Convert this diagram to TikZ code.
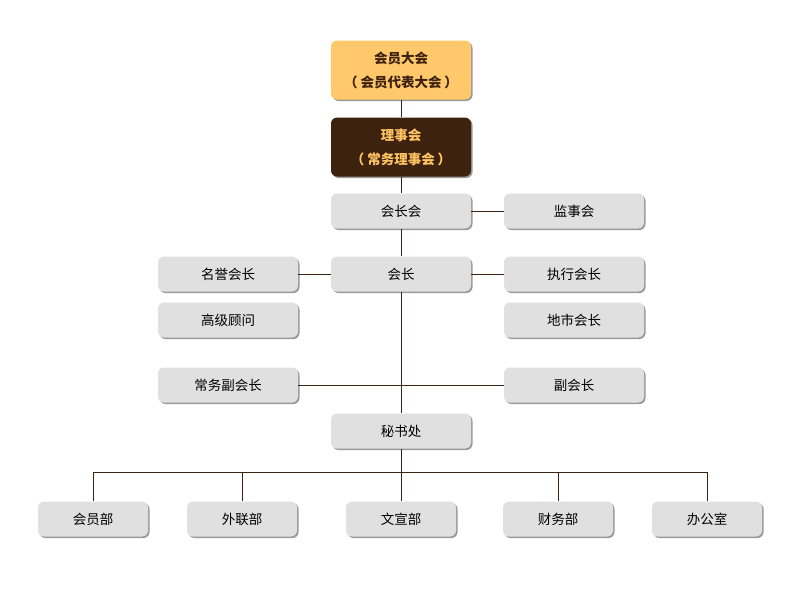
\documentclass[tikz,border=0pt]{standalone}
\usepackage{fontspec}
\setmainfont{Noto Sans CJK SC}
\usetikzlibrary{shadows}

\definecolor{linebrown}{HTML}{3E2210}
\definecolor{boxgold}{HTML}{FFC86A}
\definecolor{boxbrown}{HTML}{3E2210}
\definecolor{textgold}{HTML}{FFC462}
\definecolor{boxgray}{HTML}{E0E0E0}

\newcommand*{\colL}{228}
\newcommand*{\colM}{401}
\newcommand*{\colR}{574}

\tikzset{
    unit/.style={rounded corners=6pt, minimum height=35pt, minimum width=140pt,
        font=\fontsize{13.5}{15}\selectfont, inner sep=0pt,
        drop shadow={shadow xshift=1.5pt, shadow yshift=-1.5pt, fill=black!40, opacity=1}},
    grayunit/.style={unit, fill=boxgray},
    topunit/.style={unit, minimum height=59pt, align=center,
        font=\fontsize{13.5}{24}\selectfont\bfseries},
    dept/.style={grayunit, minimum width=110pt},
    link/.style={draw=linebrown, line width=0.8pt},
}

\begin{document}
\begin{tikzpicture}[x=1pt,y=-1pt]
    \useasboundingbox [fill=white] (0,0) rectangle (800,600);

    \node [topunit, fill=boxgold, text=linebrown] (assembly) at (\colM,70) {会员大会\\（\hspace{3pt}会员代表大会\hspace{3pt}）};
    \node [topunit, fill=boxbrown, text=textgold] (council) at (\colM,147) {理事会\\（\hspace{3pt}常务理事会\hspace{3pt}）};

    \node [grayunit] (presidium)   at (\colM,211) {会长会};
    \node [grayunit] (supervisors) at (\colR,211) {监事会};
    \node [grayunit] (honorary)    at (\colL,274) {名誉会长};
    \node [grayunit] (president)   at (\colM,274) {会长};
    \node [grayunit] (executive)   at (\colR,274) {执行会长};
    \node [grayunit] (advisor)     at (\colL,320) {高级顾问};
    \node [grayunit] (regional)    at (\colR,320) {地市会长};
    \node [grayunit] (standing)    at (\colL,385) {常务副会长};
    \node [grayunit] (vicepres)    at (\colR,385) {副会长};
    \node [grayunit] (secretariat) at (\colM,431) {秘书处};

    \foreach \x/\name/\label in {93/dA/会员部,242/dB/外联部,401/dC/文宣部,558/dD/财务部,707/dE/办公室} {
        \node [dept] (\name) at (\x,519) {\label};
    }

    \coordinate (bus) at (\colM,472);

    \draw [link] (assembly) -- (council);
    \draw [link] (council) -- (presidium);
    \draw [link] (presidium) -- (supervisors);
    \draw [link] (presidium) -- (president);
    \draw [link] (honorary) -- (president);
    \draw [link] (president) -- (executive);
    \draw [link] (president) -- (secretariat);
    \draw [link] (standing) -- (vicepres);
    \draw [link] (secretariat) -- (dC);
    \foreach \name in {dA,dB,dD,dE} {
        \draw [link] (\name.north) |- (bus);
    }
\end{tikzpicture}
\end{document}
